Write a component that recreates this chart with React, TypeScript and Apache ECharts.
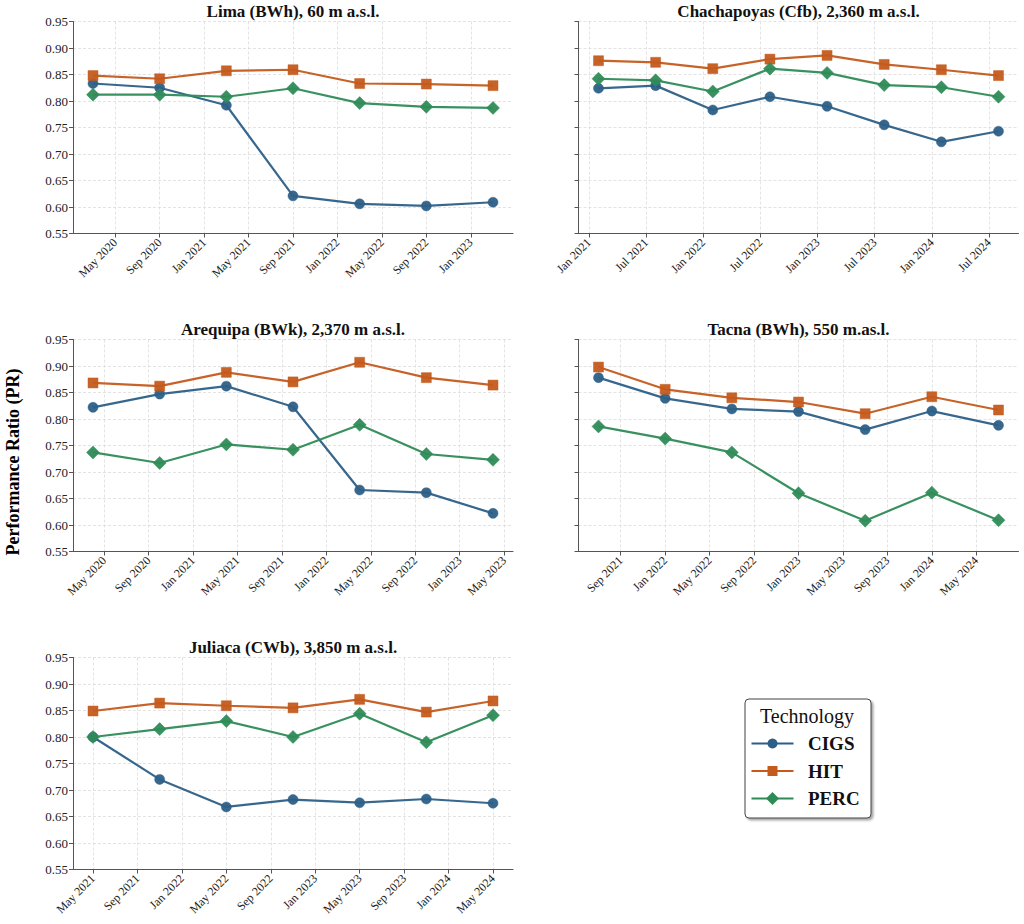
import React, { useEffect, useRef } from "react";
import * as echarts from "echarts";

// ---------- data ----------
const technologies = ["CIGS", "HIT", "PERC"];

const limaDates = ["2020-03", "2020-09", "2021-03", "2021-09", "2022-03", "2022-09", "2023-03"];
const limaCIGS = [0.833, 0.825, 0.792, 0.621, 0.606, 0.602, 0.609];
const limaHIT = [0.848, 0.842, 0.857, 0.859, 0.833, 0.832, 0.829];
const limaPERC = [0.812, 0.812, 0.808, 0.824, 0.796, 0.789, 0.787];
const limaTicks = ["May 2020", "Sep 2020", "Jan 2021", "May 2021", "Sep 2021", "Jan 2022", "May 2022", "Sep 2022", "Jan 2023"];

const chachaDates = ["2021-02", "2021-08", "2022-02", "2022-08", "2023-02", "2023-08", "2024-02", "2024-08"];
const chachaCIGS = [0.824, 0.829, 0.783, 0.808, 0.790, 0.755, 0.723, 0.743];
const chachaHIT = [0.876, 0.873, 0.861, 0.879, 0.886, 0.869, 0.859, 0.848];
const chachaPERC = [0.842, 0.839, 0.818, 0.861, 0.853, 0.830, 0.826, 0.808];
const chachaTicks = ["Jan 2021", "Jul 2021", "Jan 2022", "Jul 2022", "Jan 2023", "Jul 2023", "Jan 2024", "Jul 2024"];

const arequipaDates = ["2020-04", "2020-10", "2021-04", "2021-10", "2022-04", "2022-10", "2023-04"];
const arequipaCIGS = [0.822, 0.847, 0.862, 0.823, 0.666, 0.661, 0.622];
const arequipaHIT = [0.868, 0.862, 0.888, 0.870, 0.907, 0.878, 0.864];
const arequipaPERC = [0.737, 0.717, 0.752, 0.742, 0.789, 0.734, 0.723];
const arequipaTicks = ["May 2020", "Sep 2020", "Jan 2021", "May 2021", "Sep 2021", "Jan 2022", "May 2022", "Sep 2022", "Jan 2023", "May 2023"];

const tacnaDates = ["2021-07", "2022-01", "2022-07", "2023-01", "2023-07", "2024-01", "2024-07"];
const tacnaCIGS = [0.878, 0.839, 0.819, 0.814, 0.780, 0.815, 0.788];
const tacnaHIT = [0.898, 0.856, 0.840, 0.832, 0.810, 0.842, 0.817];
const tacnaPERC = [0.786, 0.763, 0.737, 0.660, 0.608, 0.661, 0.609];
const tacnaTicks = ["Sep 2021", "Jan 2022", "May 2022", "Sep 2022", "Jan 2023", "May 2023", "Sep 2023", "Jan 2024", "May 2024"];

const juliacaDates = ["2021-05", "2021-11", "2022-05", "2022-11", "2023-05", "2023-11", "2024-05"];
const juliacaCIGS = [0.800, 0.720, 0.668, 0.682, 0.676, 0.683, 0.675];
const juliacaHIT = [0.849, 0.864, 0.859, 0.855, 0.871, 0.847, 0.868];
const juliacaPERC = [0.800, 0.815, 0.830, 0.800, 0.844, 0.790, 0.841];
const juliacaTicks = ["May 2021", "Sep 2021", "Jan 2022", "May 2022", "Sep 2022", "Jan 2023", "May 2023", "Sep 2023", "Jan 2024", "May 2024"];

const panelTitles = [
  "Lima (BWh), 60 m a.s.l.",
  "Chachapoyas (Cfb), 2,360 m a.s.l.",
  "Arequipa (BWk), 2,370 m a.s.l.",
  "Tacna (BWh), 550 m.as.l.",
  "Juliaca (CWb), 3,850 m a.s.l.",
];
const panelDates = [limaDates, chachaDates, arequipaDates, tacnaDates, juliacaDates];
const panelValues = [
  [limaCIGS, limaHIT, limaPERC],
  [chachaCIGS, chachaHIT, chachaPERC],
  [arequipaCIGS, arequipaHIT, arequipaPERC],
  [tacnaCIGS, tacnaHIT, tacnaPERC],
  [juliacaCIGS, juliacaHIT, juliacaPERC],
];
const panelTicks = [limaTicks, chachaTicks, arequipaTicks, tacnaTicks, juliacaTicks];

const yMin = 0.55;
const yMax = 0.95;
const yStep = 0.05;
const yAxisTitle = "Performance Ratio (PR)";
const legendTitle = "Technology";

// ---------- styles ----------
const techColors = ["#2c5f87", "#c45a1c", "#2e8b57"];
const techSymbols = ["circle", "rect", "diamond"];
const techSymbolSizes = [10, 10, 13];
const FONT = "'Liberation Serif', 'Times New Roman', serif";

const gridPos = [
  { left: 73, top: 21.5 },
  { left: 578.5, top: 21.5 },
  { left: 73, top: 339.5 },
  { left: 578.5, top: 339.5 },
  { left: 73, top: 657.5 },
];
const GRID_W = 440;
const GRID_H = 212;

const MONTHS = ["Jan", "Feb", "Mar", "Apr", "May", "Jun", "Jul", "Aug", "Sep", "Oct", "Nov", "Dec"];
function dateToMonth(d: string): number {
  const [y, m] = d.split("-").map(Number);
  return (y - 2000) * 12 + (m - 1);
}
function labelToMonth(l: string): number {
  const [m, y] = l.split(" ");
  return (Number(y) - 2000) * 12 + MONTHS.indexOf(m);
}
function monthToLabel(v: number): string {
  const r = Math.round(v);
  const y = Math.floor(r / 12) + 2000;
  return MONTHS[((r % 12) + 12) % 12] + " " + y;
}

function buildOption() {
  const grid: any[] = [];
  const xAxis: any[] = [];
  const yAxis: any[] = [];
  const series: any[] = [];
  const title: any[] = [];

  panelTitles.forEach((t, i) => {
    const g = gridPos[i];
    grid.push({ left: g.left, top: g.top, width: GRID_W, height: GRID_H, containLabel: false });
    const xs = panelDates[i].map(dateToMonth);
    const span = xs[xs.length - 1] - xs[0];
    const tickVals = panelTicks[i].map(labelToMonth);
    xAxis.push({
      type: "value",
      gridIndex: i,
      min: xs[0] - 0.05 * span,
      max: xs[xs.length - 1] + 0.05 * span,
      axisLine: { show: true, onZero: false, lineStyle: { color: "#555", width: 1 } },
      axisTick: { show: true, length: 4, customValues: tickVals, lineStyle: { color: "#555" } },
      axisLabel: {
        customValues: tickVals,
        rotate: 45,
        margin: 7,
        fontFamily: FONT,
        fontSize: 12,
        color: "#222",
        formatter: (v: number) => monthToLabel(v),
      },
      splitLine: { show: true, lineStyle: { color: "#dcdcdc", type: [3, 2], width: 0.8 } },
    });
    const isLeft = i % 2 === 0;
    yAxis.push({
      type: "value",
      gridIndex: i,
      min: yMin,
      max: yMax,
      interval: yStep,
      axisLine: { show: true, lineStyle: { color: "#555", width: 1 } },
      axisTick: { show: true, length: 4, lineStyle: { color: "#555" } },
      axisLabel: {
        show: isLeft,
        margin: 5,
        fontFamily: FONT,
        fontSize: 13,
        color: "#222",
        formatter: (v: number) => v.toFixed(2),
      },
      splitLine: { show: true, lineStyle: { color: "#dcdcdc", type: [3, 2], width: 0.8 } },
    });
    title.push({
      text: t,
      left: g.left + GRID_W / 2,
      top: g.top - 19,
      textAlign: "center",
      padding: 0,
      textStyle: { fontFamily: FONT, fontWeight: "bold", fontSize: 17, color: "#111" },
    });
    technologies.forEach((tech, k) => {
      series.push({
        type: "line",
        name: tech,
        xAxisIndex: i,
        yAxisIndex: i,
        data: xs.map((x, j) => [x, panelValues[i][k][j]]),
        symbol: techSymbols[k],
        symbolSize: techSymbolSizes[k],
        showAllSymbol: true,
        lineStyle: { color: techColors[k], width: 2.2, opacity: 0.95 },
        itemStyle: { color: techColors[k], borderColor: techColors[k], borderWidth: 0.5, opacity: 0.95 },
        emphasis: { disabled: true },
        z: 2 + k,
      });
    });
  });

  // legend box (drawn as graphic)
  const lx = 745;
  const ly = 699;
  const rowY = [743.5, 771, 798.5];
  const graphic: any[] = [
    {
      type: "text",
      x: 13,
      y: 462,
      rotation: Math.PI / 2,
      style: {
        text: yAxisTitle,
        fontFamily: FONT,
        fontWeight: "bold",
        fontSize: 18,
        fill: "#000",
        textAlign: "center",
        textVerticalAlign: "middle",
      },
    },
    {
      type: "rect",
      shape: { x: lx, y: ly, width: 126, height: 119, r: 4 },
      style: {
        fill: "#fff",
        stroke: "#444",
        lineWidth: 1,
        shadowBlur: 2,
        shadowOffsetX: 2,
        shadowOffsetY: 2,
        shadowColor: "rgba(0,0,0,0.35)",
      },
      z: 10,
    },
    {
      type: "text",
      x: 807,
      y: 716,
      style: {
        text: legendTitle,
        fontFamily: FONT,
        fontSize: 20,
        fill: "#111",
        textAlign: "center",
        textVerticalAlign: "middle",
      },
      z: 11,
    },
  ];
  technologies.forEach((tech, k) => {
    const y = rowY[k];
    const cx = 772.5;
    graphic.push({
      type: "line",
      shape: { x1: 751.5, y1: y, x2: 793.5, y2: y },
      style: { stroke: techColors[k], lineWidth: 2.2 },
      z: 11,
    });
    if (techSymbols[k] === "circle") {
      graphic.push({ type: "circle", shape: { cx, cy: y, r: 5 }, style: { fill: techColors[k] }, z: 12 });
    } else if (techSymbols[k] === "rect") {
      graphic.push({ type: "rect", shape: { x: cx - 5, y: y - 5, width: 10, height: 10 }, style: { fill: techColors[k] }, z: 12 });
    } else {
      graphic.push({
        type: "polygon",
        shape: { points: [[cx, y - 6.5], [cx + 6.5, y], [cx, y + 6.5], [cx - 6.5, y]] },
        style: { fill: techColors[k] },
        z: 12,
      });
    }
    graphic.push({
      type: "text",
      x: 808,
      y,
      style: {
        text: tech,
        fontFamily: FONT,
        fontWeight: "bold",
        fontSize: 19,
        fill: "#111",
        textAlign: "left",
        textVerticalAlign: "middle",
      },
      z: 12,
    });
  });

  return {
    animation: false,
    backgroundColor: "#fff",
    textStyle: { fontFamily: FONT },
    title,
    grid,
    xAxis,
    yAxis,
    series,
    graphic,
  };
}

export default function App() {
  const ref = useRef<HTMLDivElement>(null);
  useEffect(() => {
    document.body.style.margin = "0";
    if (!ref.current) return;
    const chart = echarts.init(ref.current, undefined, { renderer: "svg" });
    chart.setOption(buildOption());
    return () => {
      chart.dispose();
    };
  }, []);
  return <div ref={ref} style={{ width: 1024, height: 924 }} />;
}
